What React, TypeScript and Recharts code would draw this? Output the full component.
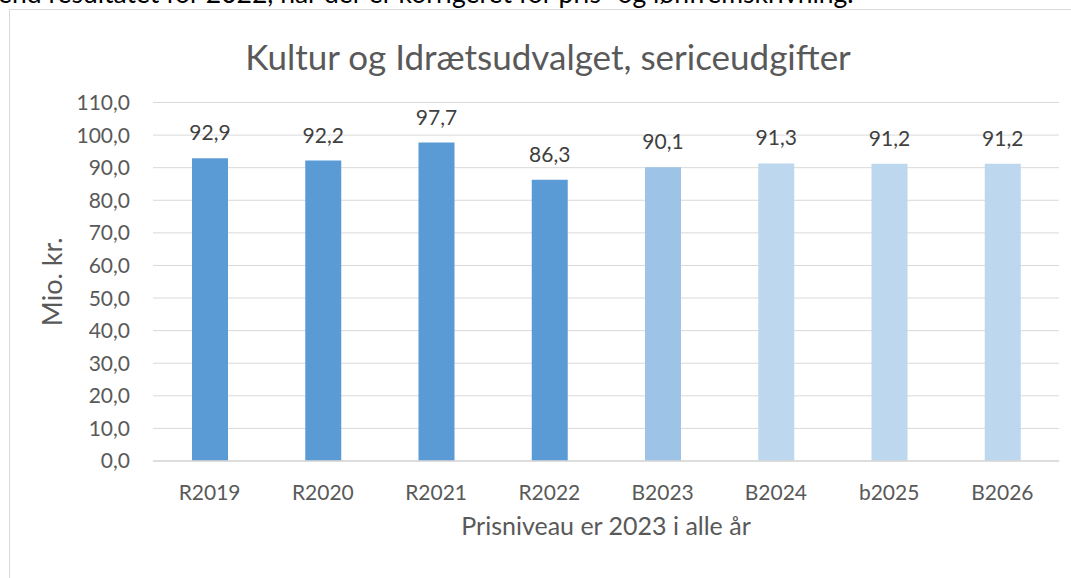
import React from 'react';
import { BarChart, Bar, XAxis, YAxis, CartesianGrid, LabelList, Cell } from 'recharts';

const categories = ['R2019', 'R2020', 'R2021', 'R2022', 'B2023', 'B2024', 'b2025', 'B2026'];
const values = [92.9, 92.2, 97.7, 86.3, 90.1, 91.3, 91.2, 91.2];
const yTicks = [0, 10, 20, 30, 40, 50, 60, 70, 80, 90, 100, 110];
const barColors = ['#5B9BD5', '#5B9BD5', '#5B9BD5', '#5B9BD5', '#9DC3E6', '#BDD7EE', '#BDD7EE', '#BDD7EE'];

const data = categories.map((c, i) => ({ name: c, value: values[i] }));

const fmt = (v: any) => Number(v).toFixed(1).replace('.', ',');
const FONT = 'Lato, "Liberation Sans", sans-serif';
const GREY = '#595959';

export default function App() {
  return (
    <div style={{ position: 'absolute', left: 0, top: 0, width: 1071, height: 578, overflow: 'hidden', background: '#fff' }}>
      <svg width={1071} height={40} style={{ position: 'absolute', left: 0, top: 0 }}>
        <text x={-2} y={3} fontFamily={FONT} fontSize={26.5} fill="#000">
          end resultatet for 2022, når der er korrigeret for pris- og lønfremskrivning.
        </text>
      </svg>
      <div style={{ position: 'absolute', left: 9, top: 9, width: 1100, height: 620, border: '1px solid #D9D9D9', boxSizing: 'border-box' }} />
      <div style={{ position: 'absolute', left: 0, top: 0 }}>
        <BarChart width={1071} height={578} data={data} margin={{ top: 102.5, right: 12, bottom: 37, left: 20 }}>
          <text x={548} y={70} textAnchor="middle" fontFamily={FONT} fontSize={35} fill={GREY}>
            Kultur og Idrætsudvalget, sericeudgifter
          </text>
          <CartesianGrid vertical={false} stroke="#D9D9D9" strokeWidth={1} />
          <XAxis
            dataKey="name"
            height={80}
            tickLine={false}
            tickSize={0}
            tickMargin={24}
            axisLine={{ stroke: '#D9D9D9', strokeWidth: 1.5 }}
            tick={{ fontFamily: FONT, fontSize: 21, fill: GREY }}
            label={{ value: 'Prisniveau er 2023 i alle år', position: 'insideBottom', offset: 6, fontFamily: FONT, fontSize: 25, fill: GREY }}
          />
          <YAxis
            width={133}
            domain={[0, 110]}
            ticks={yTicks}
            interval={0}
            tickFormatter={fmt}
            tickLine={false}
            axisLine={false}
            tickSize={0}
            tickMargin={23}
            tick={{ fontFamily: FONT, fontSize: 21, fill: GREY }}
            label={{ value: 'Mio. kr.', angle: -90, position: 'insideLeft', offset: 32, fontFamily: FONT, fontSize: 27, fill: GREY, style: { textAnchor: 'middle' } }}
          />
          <Bar dataKey="value" barSize={36} isAnimationActive={false}>
            {data.map((d, i) => (
              <Cell key={d.name} fill={barColors[i]} />
            ))}
            <LabelList dataKey="value" position="top" offset={18} formatter={fmt} fontFamily={FONT} fontSize={21} fill="#404040" />
          </Bar>
        </BarChart>
      </div>
    </div>
  );
}
